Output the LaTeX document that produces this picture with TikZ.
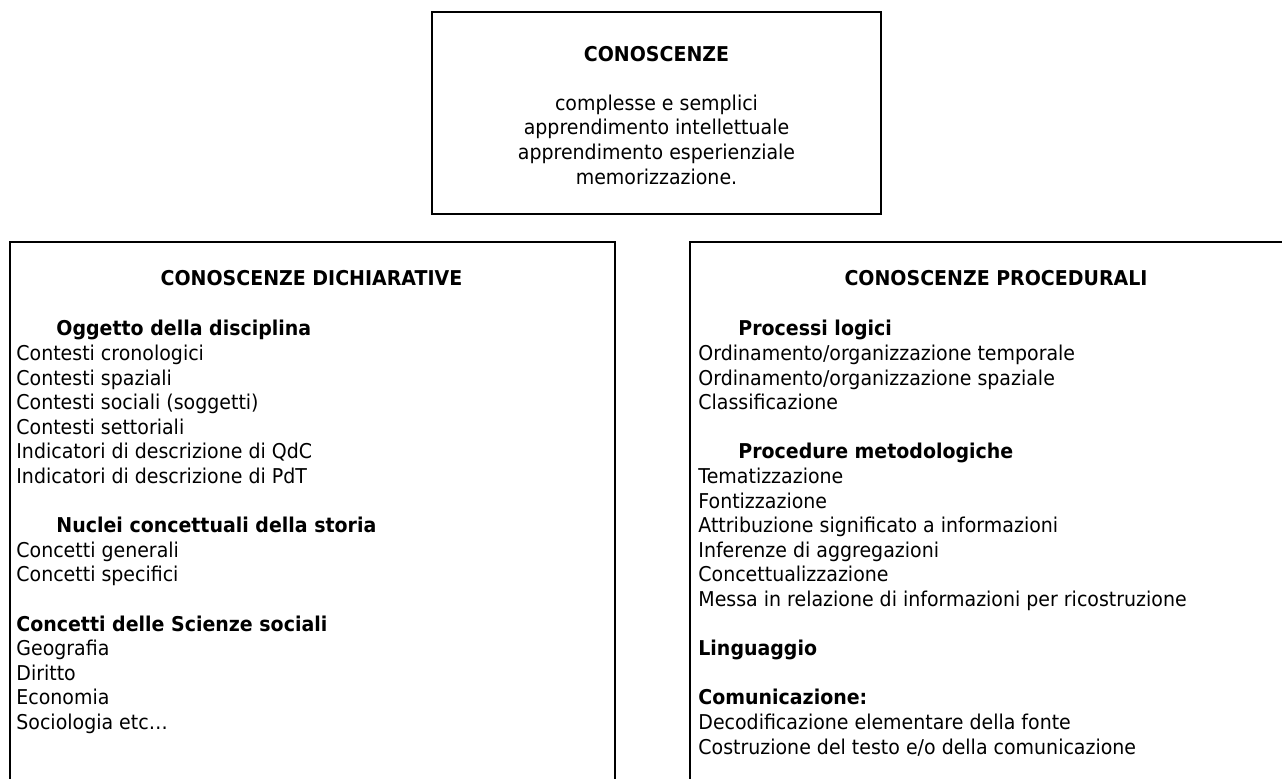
\documentclass[tikz,border=0pt]{standalone}
\usepackage{fontspec}
\setmainfont{DejaVu Sans}[FakeStretch=0.93]
\usetikzlibrary{positioning}
\newcommand{\bodyfont}{\fontsize{10.2}{12.3}\selectfont}

\begin{document}
\begin{tikzpicture}[x=0.5pt, y=-0.5pt,
		box/.style={draw, line width=1pt, rectangle, inner sep=0pt},
		heading/.style={font=\bodyfont\bfseries, inner sep=0pt},
		txt/.style={font=\bodyfont, align=left, inner sep=0pt},
		every node/.append style={font=\bodyfont}]
		\path[use as bounding box, clip] (0,0) rectangle (1282,778);

		\node[box, minimum width=224.5pt, minimum height=101pt] (top) at (656.5,113) {};
		\node[box, minimum width=302.5pt, minimum height=300pt, anchor=north west] (dich) at (9,241) {};
		\node[box, minimum width=307pt, minimum height=300pt, anchor=north west] (proc) at (689,241) {};

		\node[heading] (toptitle) at (656.5,54) {CONOSCENZE};
		\node[txt, align=center] (toplist) at (656.5,139.5) {complesse e semplici\\apprendimento intellettuale\\apprendimento esperienziale\\memorizzazione.};

		\node[heading] (dichtitle) at (311.5,278) {CONOSCENZE DICHIARATIVE};
		\node[heading] (proctitle) at (996,278) {CONOSCENZE PROCEDURALI};

		\node[txt, below right=39.5pt and 3.5pt of dich.north west] (dichlist) {%
			\hspace*{20pt}\textbf{Oggetto della disciplina}\\
			Contesti cronologici\\
			Contesti spaziali\\
			Contesti sociali (soggetti)\\
			Contesti settoriali\\
			Indicatori di descrizione di QdC\\
			Indicatori di descrizione di PdT\\[12.3pt]
			\hspace*{20pt}\textbf{Nuclei concettuali della storia}\\
			Concetti generali\\
			Concetti specifici\\[12.3pt]
			\textbf{Concetti delle Scienze sociali}\\
			Geografia\\
			Diritto\\
			Economia\\
			Sociologia etc…};

		\node[txt, below right=39.5pt and 4.5pt of proc.north west] (proclist) {%
			\hspace*{20pt}\textbf{Processi logici}\\
			Ordinamento/organizzazione temporale\\
			Ordinamento/organizzazione spaziale\\
			Classificazione\\[12.3pt]
			\hspace*{20pt}\textbf{Procedure metodologiche}\\
			Tematizzazione\\
			Fontizzazione\\
			Attribuzione significato a informazioni\\
			Inferenze di aggregazioni\\
			Concettualizzazione\\
			Messa in relazione di informazioni per ricostruzione\\[12.3pt]
			\textbf{Linguaggio}\\[12.3pt]
			\textbf{Comunicazione:}\\
			Decodificazione elementare della fonte\\
			Costruzione del testo e/o della comunicazione};
	\end{tikzpicture}
\end{document}
